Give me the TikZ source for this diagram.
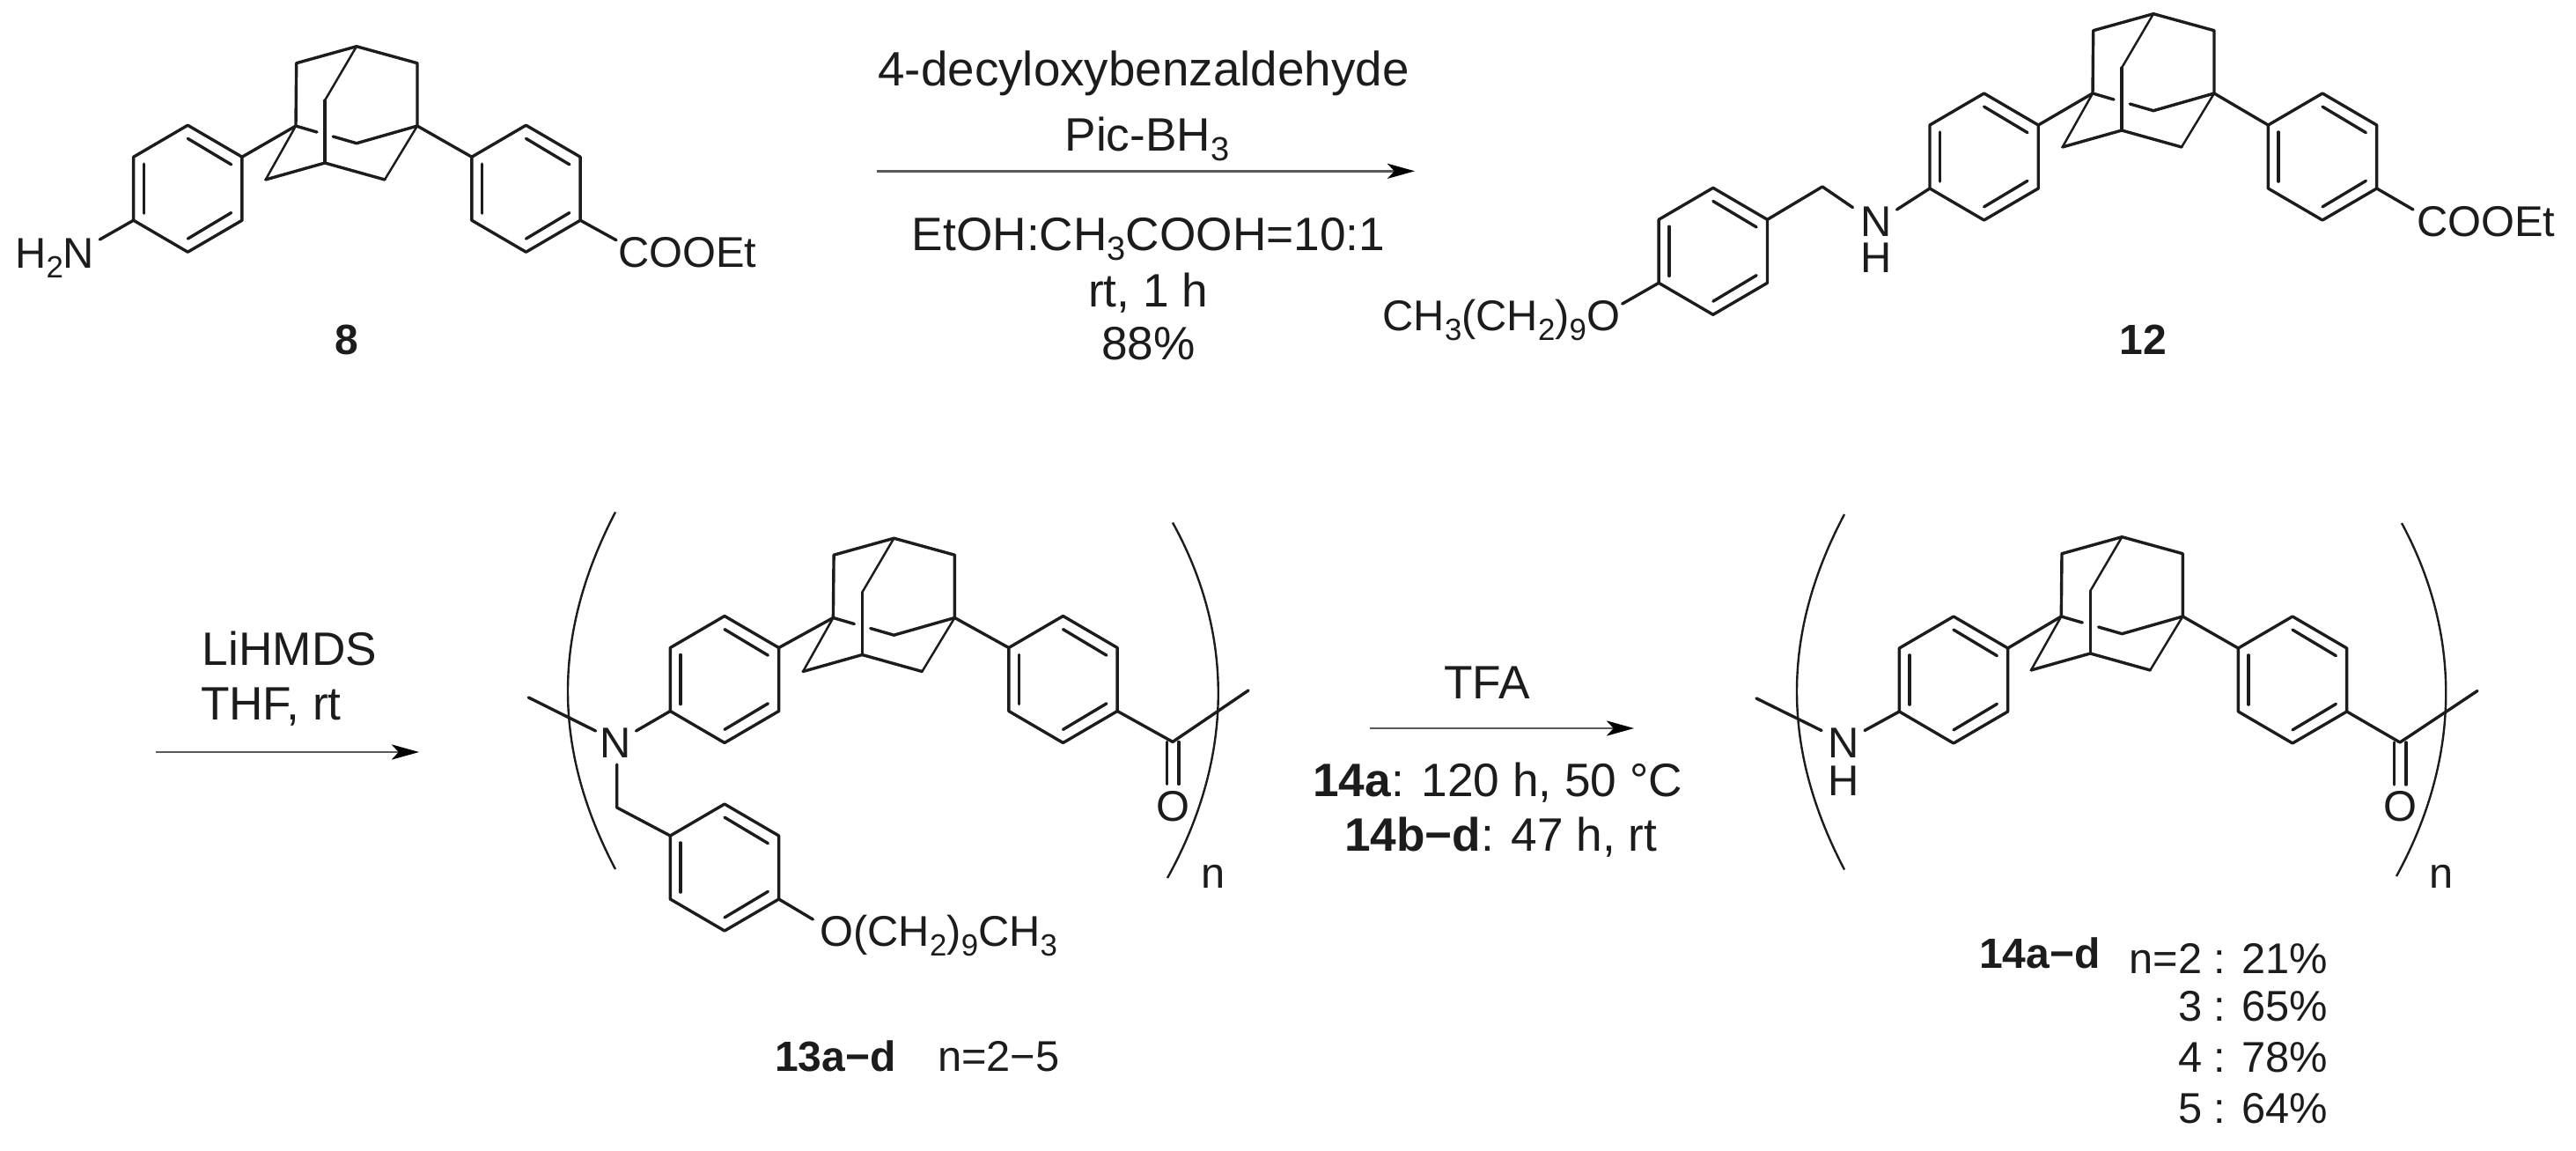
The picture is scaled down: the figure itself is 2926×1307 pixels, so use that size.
\documentclass[tikz,border=0pt]{standalone}
\usepackage{fontspec}
\setmainfont{Liberation Sans}
\usetikzlibrary{arrows.meta}
\newcommand{\lowtxt}[1]{\raisebox{-2.8pt}{\fontsize{8.7}{9}\selectfont #1}}
\newcommand{\lowrg}[1]{\raisebox{-2.8pt}{\fontsize{9.5}{10}\selectfont #1}}
\definecolor{inkcol}{HTML}{1C1C1C}
\tikzset{
  bond/.style={line width=0.85pt,draw=inkcol,line cap=round,line join=round},
  backbond/.style={line width=0.62pt,draw=inkcol,line cap=round,line join=round},
  bracket/.style={line width=0.6pt,draw=inkcol},
  rxnarrow/.style={line width=0.6pt,draw=black!65,-{Stealth[length=7.8pt,width=4.3pt,inset=2pt,color=black]}},
  txt/.style={inner sep=0pt,outer sep=0pt,text=inkcol,font=\fontsize{12.2}{15}\selectfont},
  rgtxt/.style={txt,font=\fontsize{13.3}{16}\selectfont},
  boldtxt/.style={txt,font=\fontsize{12}{15}\selectfont\bfseries}
}

% para-substituted ring: name, centre x, centre y
\newcommand{\phring}[3]{%
  \begin{scope}[shift={(#2,#3)},xscale=61.7,yscale=72]
    \coordinate (#1-t) at (0,-1);
    \coordinate (#1-ur) at (1,-0.5);
    \coordinate (#1-lr) at (1,0.5);
    \coordinate (#1-b) at (0,1);
    \coordinate (#1-ll) at (-1,0.5);
    \coordinate (#1-ul) at (-1,-0.5);
    \draw[bond] (#1-t) -- (#1-ur) -- (#1-lr) -- (#1-b) -- (#1-ll) -- (#1-ul) -- cycle;
    \draw[bond] (0,-0.79) -- (0.8,-0.38);
    \draw[bond] (-0.81,-0.39) -- (-0.81,0.39);
    \draw[bond] (0,0.79) -- (0.8,0.38);
  \end{scope}}

% adamantane cage: name, x and y of the left bridgehead
\newcommand{\cage}[3]{%
  \begin{scope}[shift={(#2,#3)}]
    \coordinate (#1-l) at (0,0);
    \coordinate (#1-r) at (138,0);
    \coordinate (#1-top) at (69,-90.3);
    \coordinate (#1-ul) at (0.7,-71.3);
    \coordinate (#1-ur) at (138,-71.3);
    \coordinate (#1-bt) at (33,-29);
    \coordinate (#1-bb) at (33,42);
    \coordinate (#1-ll) at (-34.3,61);
    \coordinate (#1-lr) at (101,61);
    \coordinate (#1-mid) at (69,19.7);
    \coordinate (#1-g1) at (24,7);
    \coordinate (#1-g2) at (42.3,12);
    \draw[bond] (#1-l) -- (#1-ul) -- (#1-top) -- (#1-ur) -- (#1-r);
    \draw[backbond] (#1-top) -- (#1-bt);
    \draw[bond] (#1-bt) -- (#1-bb);
    \draw[bond] (#1-ll) -- (#1-bb) -- (#1-lr);
    \draw[backbond] (#1-ll) -- (#1-l) (#1-lr) -- (#1-r);
    \draw[bond] (#1-l) -- (#1-g1) (#1-g2) -- (#1-mid) -- (#1-r);
  \end{scope}}

\begin{document}
\begin{tikzpicture}[x=0.25pt,y=-0.25pt]
  \useasboundingbox (0,0) rectangle (2926,1307);

  % Compound 8
  \cage{ca}{336}{143}
  \phring{ra}{213.3}{214.2}
  \phring{rb}{597.5}{214.2}
  \draw[bond] (ca-l) -- (ra-ur);
  \draw[bond] (ca-r) -- (rb-ul);
  \node[txt,anchor=base west] (amine) at (17.3,304) {H\lowtxt{2}N};
  \node[txt,anchor=base west] (ester) at (702,303) {COOEt};
  \coordinate (aminebond) at (113.3,272);
  \coordinate (esterbond) at (700,272.7);
  \draw[bond] (ra-ll) -- (aminebond);
  \draw[bond] (rb-lr) -- (esterbond);
  \node[boldtxt,anchor=base] (labeleight) at (394,402.7) {8};

  % Reagents, first step
  \coordinate (arrowas) at (996,194.3);
  \coordinate (arrowae) at (1607,194.3);
  \draw[rxnarrow] (arrowas) -- (arrowae);
  \node[rgtxt,font=\fontsize{13.7}{16}\selectfont,anchor=base] (rga) at (1299,97.3) {4-decyloxybenzaldehyde};
  \node[rgtxt,anchor=base] (rgb) at (1303,171.7) {Pic-BH\lowrg{3}};
  \node[rgtxt,anchor=base] (rgc) at (1304.5,284.3) {EtOH:CH\lowrg{3}COOH=10:1};
  \node[rgtxt,anchor=base] (rgd) at (1304,348.3) {rt, 1 h};
  \node[rgtxt,anchor=base] (rge) at (1304.5,408.3) {88\%};

  % Compound 12
  \cage{cb}{2377}{106}
  \phring{rc}{2253.6}{178}
  \phring{rd}{2638}{178}
  \phring{re}{1945.8}{285.3}
  \draw[bond] (cb-l) -- (rc-ur);
  \draw[bond] (cb-r) -- (rd-ul);
  \node[txt,anchor=base] (nitroa) at (2131,268.5) {N};
  \node[txt,anchor=base] (hydra) at (2131,309) {H};
  \node[txt,anchor=base west] (esterb) at (2745,268.5) {COOEt};
  \node[txt,anchor=base east] (etherb) at (1840,375) {CH\lowtxt{3}(CH\lowtxt{2})\lowtxt{9}O};
  \coordinate (nbonda) at (2154.5,238);
  \coordinate (nbondb) at (2104.5,235.6);
  \coordinate (benzyla) at (2070,212);
  \coordinate (esterbondb) at (2741,238);
  \coordinate (etherbondb) at (1842.7,345);
  \draw[bond] (rc-ll) -- (nbonda);
  \draw[bond] (nbondb) -- (benzyla) -- (re-ur);
  \draw[bond] (rd-lr) -- (esterbondb);
  \draw[bond] (re-ll) -- (etherbondb);
  \node[boldtxt,anchor=base] (labeltwelve) at (2434.5,402.7) {12};

  % Reagents, second step
  \coordinate (arrowbs) at (177,854);
  \coordinate (arrowbe) at (476,854);
  \draw[rxnarrow] (arrowbs) -- (arrowbe);
  \node[rgtxt,anchor=base] (rgf) at (329,755) {LiHMDS};
  \node[rgtxt,anchor=base west] (rgg) at (228,817) {THF, rt};

  % Polymer 13
  \cage{cc}{946.4}{701.5}
  \phring{rf}{823}{771.5}
  \phring{rg}{1207.5}{771.5}
  \phring{rh}{823}{985}
  \draw[bond] (cc-l) -- (rf-ur);
  \draw[bond] (cc-r) -- (rg-ul);
  \node[txt,anchor=base] (nitrob) at (699,860) {N};
  \node[txt,anchor=base] (oxya) at (1332,932) {O};
  \node[txt,anchor=base west] (etherc) at (931.5,1074) {O(CH\lowtxt{2})\lowtxt{9}CH\lowtxt{3}};
  \coordinate (tailla) at (600.3,792);
  \coordinate (taillb) at (676.6,830);
  \coordinate (nbondc) at (722.5,830);
  \coordinate (nbondd) at (700.7,868);
  \coordinate (benzylb) at (700.7,917);
  \coordinate (carbonyla) at (1332,842.4);
  \coordinate (taila) at (1418,784);
  \coordinate (etherbondc) at (923.4,1044);
  \draw[bond] (tailla) -- (taillb);
  \draw[bond] (rf-ll) -- (nbondc);
  \draw[bond] (nbondd) -- (benzylb) -- (rh-ul);
  \draw[bond] (rg-lr) -- (carbonyla) -- (taila);
  \draw[bond] (rh-lr) -- (etherbondc);
  \draw[bond] ([xshift=-1.7pt]carbonyla) -- ++(0,48);
  \draw[bond] ([xshift=1.7pt]carbonyla) -- ++(0,48);
  \draw[bracket] (699,581.5) .. controls (627,720) and (627,850) .. (699,987);
  \draw[bracket] (1332,593.5) .. controls (1402,720) and (1402,860) .. (1326,997);
  \node[txt,anchor=base] (repa) at (1378,1008) {n};
  \node[boldtxt,anchor=base west] (labelthirteen) at (880,1216) {13a−d};
  \node[txt,anchor=base west] (rangea) at (1065,1216) {n=2−5};

  % Reagents, third step
  \coordinate (arrowcs) at (1556,827);
  \coordinate (arrowce) at (1856,827);
  \draw[rxnarrow] (arrowcs) -- (arrowce);
  \node[rgtxt,anchor=base] (rgh) at (1689,793) {TFA};
  \node[rgtxt,anchor=base east] (rgi) at (1911,904) {\textbf{14a}: 120 h, 50 °C};
  \node[rgtxt,anchor=base west] (rgj) at (1527,966) {\textbf{14b−d}: 47 h, rt};

  % Polymer 14
  \cage{cd}{2341.3}{700}
  \phring{ri}{2219}{772}
  \phring{rj}{2604}{772}
  \draw[bond] (cd-l) -- (ri-ur);
  \draw[bond] (cd-r) -- (rj-ul);
  \node[txt,anchor=base] (nitroc) at (2094,860) {N};
  \node[txt,anchor=base] (hydrb) at (2094,903) {H};
  \node[txt,anchor=base] (oxyb) at (2726,932) {O};
  \coordinate (tailra) at (1995,793);
  \coordinate (tailrb) at (2069,829.5);
  \coordinate (nbonde) at (2118,829.5);
  \coordinate (carbonylb) at (2726,843);
  \coordinate (tailb) at (2814,784.5);
  \draw[bond] (tailra) -- (tailrb);
  \draw[bond] (ri-ll) -- (nbonde);
  \draw[bond] (rj-lr) -- (carbonylb) -- (tailb);
  \draw[bond] ([xshift=-1.7pt]carbonylb) -- ++(0,48);
  \draw[bond] ([xshift=1.7pt]carbonylb) -- ++(0,48);
  \draw[bracket] (2095,584) .. controls (2023,720) and (2023,850) .. (2095,987.5);
  \draw[bracket] (2728,594) .. controls (2796,720) and (2796,860) .. (2722,995);
  \node[txt,anchor=base] (repb) at (2773.4,1008) {n};
  \node[boldtxt,anchor=base west] (labelfourteen) at (2248,1099) {14a−d};
  \node[txt,anchor=base east] (yielda) at (2644,1105) {n=2 : 21\%};
  \node[txt,anchor=base east] (yieldb) at (2644,1159.3) {3 : 65\%};
  \node[txt,anchor=base east] (yieldc) at (2644,1217.7) {4 : 78\%};
  \node[txt,anchor=base east] (yieldd) at (2644,1275.7) {5 : 64\%};
\end{tikzpicture}
\end{document}
